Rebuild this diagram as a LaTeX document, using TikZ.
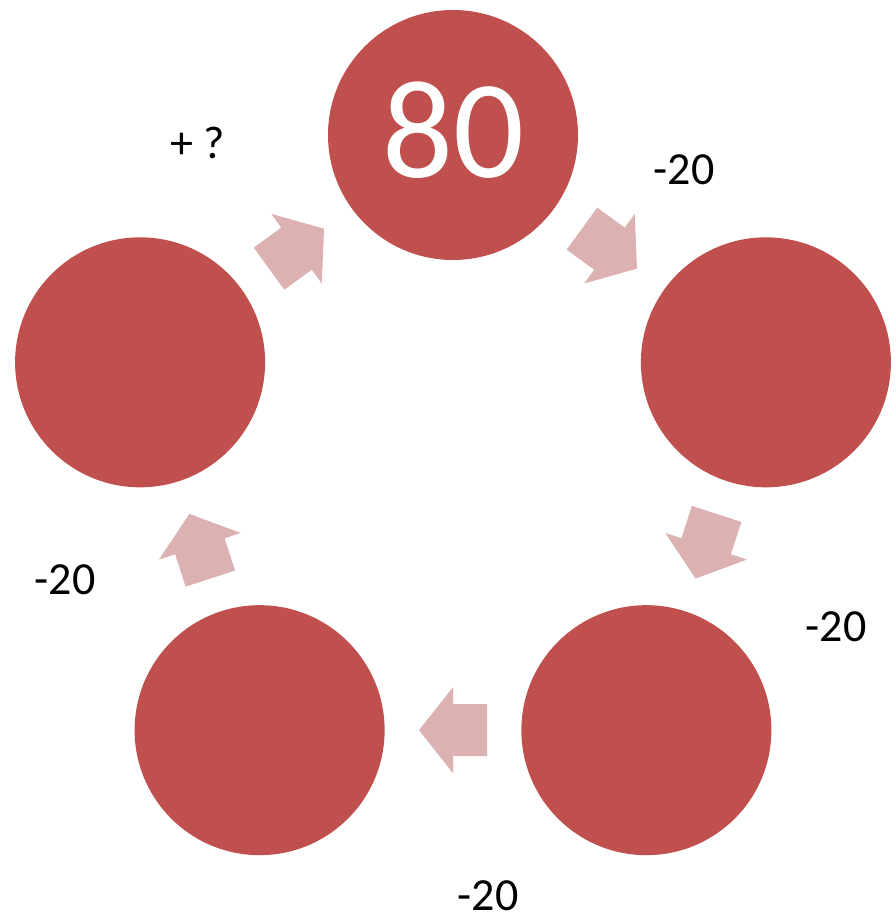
\documentclass[tikz,border=0pt]{standalone}
\usepackage{fontspec}
\setmainfont{Carlito}
\usepackage{xcolor}
\usepackage{tikz}
\usetikzlibrary{positioning}
\usetikzlibrary{calc}
\definecolor{ballred}{RGB}{192,80,77}
\definecolor{arrowpink}{RGB}{220,177,177}

\begin{document}
\begin{tikzpicture}[x=1pt, y=1pt,
    ball/.style={circle, fill=ballred, draw=none, minimum size=250pt, inner sep=0pt},
    step label/.style={font=\fontsize{46}{50}\selectfont, inner sep=0pt},
    blockarrow/.pic={
        \fill[arrowpink] (-34,26) -- (0,26) -- (0,43) -- (34,0) -- (0,-43)
            -- (0,-26) -- (-34,-26) -- cycle;
    }]
        \useasboundingbox (-453,-459) rectangle (442,464);

        \node [ball, text=white, text depth=11pt, font=\fontsize{140}{150}\selectfont] (start) at (90:329) {80};
        \node [ball] (one) at (18:329) {};
        \node [ball] (two) at (-54:329) {};
        \node [ball] (three) at (-126:329) {};
        \node [ball] (four) at (162:329) {};

        % arrows between the balls, clockwise
        \path ($(start)!0.5!(one)$) pic[rotate=-36] {blockarrow};
        \path ($(one)!0.5!(two)$) pic[rotate=-108] {blockarrow};
        \path ($(two)!0.5!(three)$) pic[rotate=180] {blockarrow};
        \path ($(three)!0.5!(four)$) pic[rotate=108] {blockarrow};
        \path ($(four)!0.5!(start)$) pic[rotate=36] {blockarrow};

        \node [step label] (l1) at (231,294) {-20};
        \node [step label] (l2) at (383,-163) {-20};
        \node [step label] (l3) at (35,-432) {-20};
        \node [step label] (l4) at (-388,-116) {-20};
        \node [step label] (l0) at (-255,321) {+ ?};
    \end{tikzpicture}
\end{document}
